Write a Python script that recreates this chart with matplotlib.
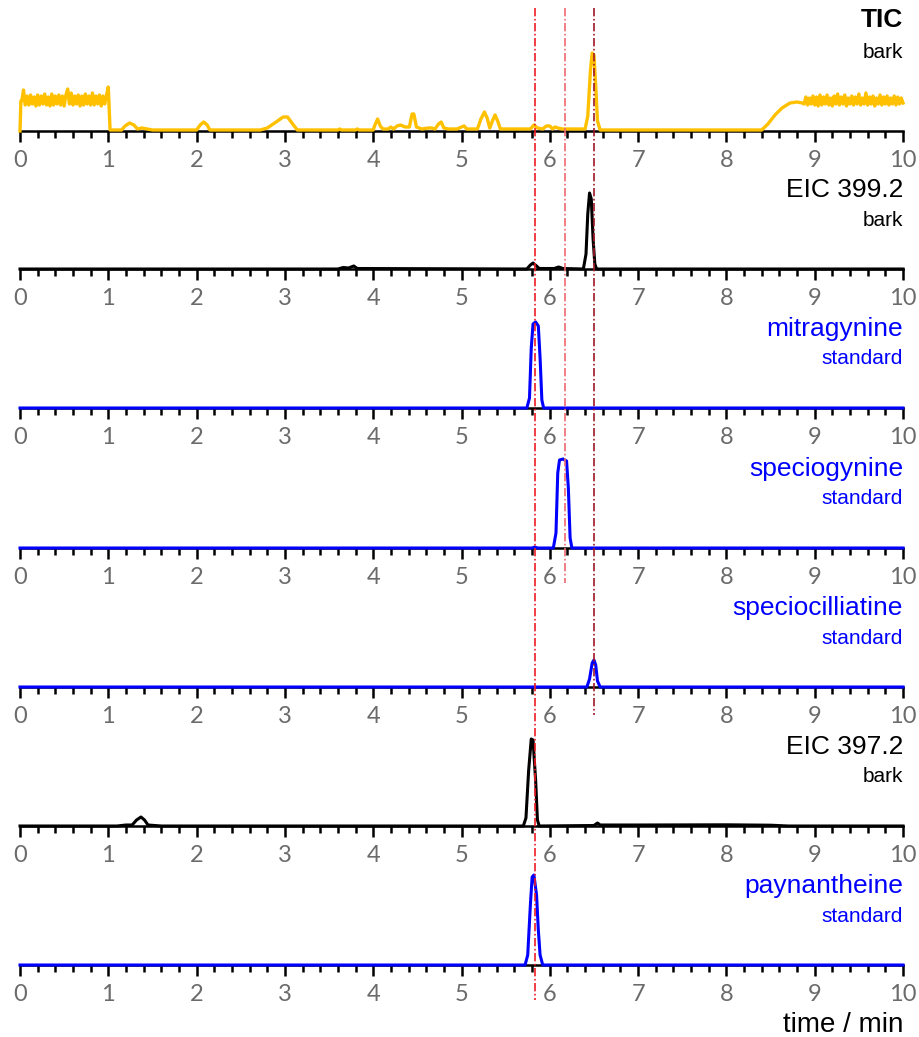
import numpy as np
import matplotlib
matplotlib.use("Agg")
import matplotlib.pyplot as plt
from matplotlib.ticker import MultipleLocator

# --- données (intensités normalisées par panneau) ---
tic_noise_start = [0.30, 0.41, 0.26, 0.35, 0.26, 0.36, 0.27, 0.34, 0.25, 0.36,
                   0.26, 0.35, 0.27, 0.37, 0.26, 0.34, 0.25, 0.37, 0.26, 0.35,
                   0.27, 0.36, 0.26, 0.35, 0.25, 0.36, 0.42, 0.27, 0.38, 0.26,
                   0.35, 0.27, 0.36, 0.25, 0.35, 0.26, 0.37, 0.27, 0.35, 0.26,
                   0.38, 0.26, 0.35, 0.27, 0.36, 0.25, 0.35, 0.27, 0.36]
tic_mid_t = [1.00, 1.02, 1.15, 1.19, 1.24, 1.29, 1.33, 1.38, 1.44, 1.50, 2.00, 2.04,
             2.08, 2.12, 2.15, 2.72, 2.80, 2.90, 2.98, 3.03, 3.08, 3.14, 3.60, 3.62,
             3.64, 3.80, 3.82, 3.84, 4.00, 4.02, 4.05, 4.08, 4.11, 4.17, 4.20, 4.23,
             4.27, 4.31, 4.36, 4.41, 4.44, 4.46, 4.49, 4.55, 4.62, 4.66, 4.70, 4.74,
             4.77, 4.80, 4.85, 4.92, 4.95, 5.00, 5.03, 5.06, 5.18, 5.22, 5.26, 5.29,
             5.32, 5.35, 5.38, 5.41, 5.44, 5.78, 5.82, 5.86, 5.92, 5.96, 6.00, 6.03,
             6.06, 6.09, 6.14, 6.40, 6.43, 6.46, 6.48, 6.50, 6.52, 6.54, 6.57, 8.40,
             8.47, 8.55, 8.63, 8.72, 8.80, 8.86]
tic_mid_y = [0.44, 0.01, 0.01, 0.05, 0.08, 0.06, 0.02, 0.03, 0.02, 0.01, 0.01, 0.06,
             0.09, 0.06, 0.01, 0.01, 0.03, 0.09, 0.14, 0.14, 0.08, 0.01, 0.01, 0.02,
             0.01, 0.01, 0.02, 0.01, 0.01, 0.06, 0.12, 0.05, 0.02, 0.02, 0.04, 0.02,
             0.05, 0.06, 0.04, 0.04, 0.17, 0.17, 0.04, 0.02, 0.03, 0.03, 0.02, 0.07,
             0.09, 0.03, 0.02, 0.02, 0.02, 0.04, 0.05, 0.02, 0.02, 0.12, 0.19, 0.13,
             0.03, 0.10, 0.16, 0.10, 0.02, 0.02, 0.06, 0.03, 0.02, 0.05, 0.05, 0.02,
             0.04, 0.03, 0.02, 0.02, 0.15, 0.60, 0.78, 0.76, 0.45, 0.10, 0.01, 0.01,
             0.07, 0.16, 0.23, 0.28, 0.29, 0.28]
tic_noise_end = [0.27, 0.34, 0.26, 0.33, 0.27, 0.35, 0.26, 0.34, 0.25, 0.36,
                 0.26, 0.34, 0.27, 0.36, 0.26, 0.33, 0.25, 0.35, 0.27, 0.37,
                 0.26, 0.34, 0.27, 0.36, 0.25, 0.33, 0.27, 0.35, 0.26, 0.34,
                 0.27, 0.37, 0.26, 0.33, 0.27, 0.38, 0.26, 0.34, 0.27, 0.35,
                 0.25, 0.33, 0.27, 0.36, 0.26, 0.34, 0.27, 0.35, 0.26, 0.33,
                 0.27, 0.35, 0.26, 0.34, 0.27, 0.33, 0.28]

eic399_t = [0, 3.60, 3.66, 3.72, 3.78, 3.82, 5.74, 5.78, 5.81, 5.85, 5.88, 6.05, 6.10,
            6.15, 6.38, 6.41, 6.43, 6.45, 6.47, 6.49, 6.51, 6.53, 10]
eic399_y = [0, 0, 0.015, 0.01, 0.03, 0.005, 0, 0.04, 0.06, 0.03, 0.005, 0.005, 0.02,
            0.005, 0, 0.15, 0.55, 0.76, 0.70, 0.30, 0.05, 0, 0]

mitra_t = [0, 5.74, 5.77, 5.79, 5.81, 5.84, 5.87, 5.89, 5.91, 5.93, 10]
mitra_y = [0, 0, 0.10, 0.60, 0.84, 0.86, 0.82, 0.50, 0.08, 0, 0]

specg_t = [0, 5.80, 5.83, 5.86, 6.04, 6.07, 6.09, 6.11, 6.15, 6.19, 6.21, 6.23, 6.25, 10]
specg_y = [0, 0, 0.01, 0, 0, 0.15, 0.75, 0.88, 0.89, 0.87, 0.60, 0.10, 0, 0]

specc_t = [0, 6.42, 6.45, 6.48, 6.50, 6.52, 6.54, 6.57, 10]
specc_y = [0, 0, 0.08, 0.24, 0.27, 0.22, 0.06, 0, 0]

eic397_t = [0, 1.10, 1.20, 1.27, 1.32, 1.37, 1.41, 1.45, 1.60, 5.70, 5.73, 5.76, 5.79,
            5.81, 5.84, 5.86, 5.88, 6.50, 6.54, 6.57, 7.00, 8.00, 8.50, 8.70, 10]
eic397_y = [0, 0, 0.01, 0.01, 0.06, 0.09, 0.06, 0.01, 0, 0, 0.08, 0.55, 0.87,
            0.86, 0.45, 0.06, 0, 0.005, 0.03, 0.01, 0.01, 0.012, 0.008, 0, 0]

payn_t = [0, 5.72, 5.75, 5.78, 5.80, 5.82, 5.85, 5.87, 5.89, 5.92, 10]
payn_y = [0, 0, 0.10, 0.60, 0.88, 0.90, 0.70, 0.35, 0.10, 0, 0]

labels = ["TIC", "EIC 399.2", "mitragynine", "speciogynine", "speciocilliatine",
          "EIC 397.2", "paynantheine"]
sublabels = ["bark", "bark", "standard", "standard", "standard", "bark", "standard"]
couleurs = ["#FFC000", "black", "#0000FF", "#0000FF", "#0000FF", "black", "#0000FF"]

ref_times = [5.83, 6.17, 6.50]

# assemblage du TIC
tic_t = ([0.0, 0.01] + list(np.linspace(0.02, 0.98, len(tic_noise_start)))
         + tic_mid_t + list(np.linspace(8.88, 10.0, len(tic_noise_end))))
tic_y = [0.0, 0.30] + tic_noise_start + tic_mid_y + tic_noise_end

traces = [(tic_t, tic_y), (eic399_t, eic399_y), (mitra_t, mitra_y),
          (specg_t, specg_y), (specc_t, specc_y), (eic397_t, eic397_y),
          (payn_t, payn_y)]

W, H = 919, 1037
fig = plt.figure(figsize=(W / 100, H / 100), dpi=100)

x0, x1 = 20, 903
bases = [131, 269, 408, 548, 687, 826, 965]
haut = 100

for i, (t, y) in enumerate(traces):
    ax = fig.add_axes([x0 / W, (H - bases[i]) / H, (x1 - x0) / W, haut / H])
    ax.set_xlim(0, 10)
    ax.set_ylim(0, 1)
    ax.patch.set_alpha(0)
    for s in ["top", "right", "left"]:
        ax.spines[s].set_visible(False)
    ax.spines["bottom"].set_linewidth(1.8)
    ax.set_yticks([])
    ax.xaxis.set_major_locator(MultipleLocator(1))
    ax.xaxis.set_minor_locator(MultipleLocator(0.2))
    ax.tick_params(axis="x", which="major", direction="out", length=8, width=1.8,
                   pad=6, labelsize=17, labelcolor="#6b6b6b")
    ax.tick_params(axis="x", which="minor", direction="out", length=5, width=1.8)
    for lab in ax.get_xticklabels():
        lab.set_family("Lato")
    ax.plot(t, y, color=couleurs[i], lw=2.4 if i == 0 else 2.2, clip_on=False,
            zorder=5, solid_joinstyle="round")

    if i == 0:
        y_lab, y_sub = bases[i] - 111, bases[i] - 78
    else:
        y_lab, y_sub = bases[i] - 79, bases[i] - 49
    fig.text(x1 / W, 1 - y_lab / H, labels[i], ha="right", va="center",
             fontsize=19, family="Liberation Sans", color=couleurs[i] if i else "black",
             fontweight="bold" if i == 0 else "normal")
    fig.text(x1 / W, 1 - y_sub / H, sublabels[i], ha="right", va="center",
             fontsize=15, family="Liberation Sans",
             color=couleurs[i] if i else "black")

# lignes verticales pointillées
over = fig.add_axes([x0 / W, 0, (x1 - x0) / W, 1])
over.set_xlim(0, 10)
over.set_ylim(H, 0)
over.axis("off")
over.patch.set_alpha(0)
fins = [1000, 583, 715]
coul_v = ["#ee1c24", "#f06a70", "#a01828"]
for xt, yf, c in zip(ref_times, fins, coul_v):
    over.plot([xt, xt], [8, yf], color=c, lw=1.2, dashes=(5, 1.5, 1, 1.5), zorder=10)

fig.text(x1 / W, 1 - 1025 / H, "time / min", ha="right", va="center",
         fontsize=20, family="Liberation Sans")

fig.savefig("out.png", dpi=100)
